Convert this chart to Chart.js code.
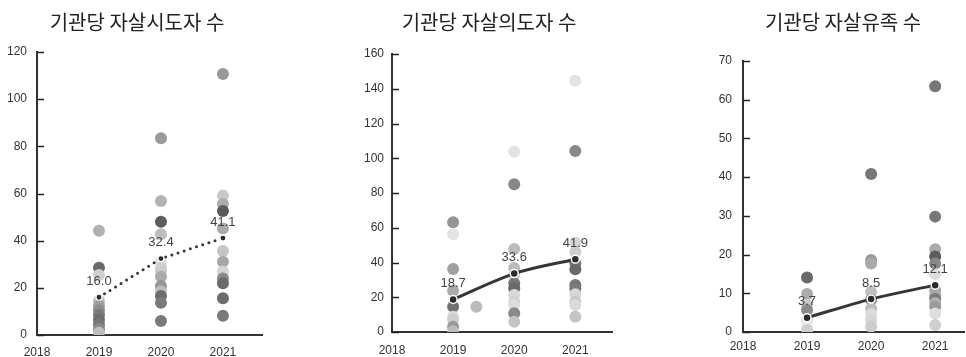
<!DOCTYPE html>
<html>
<head>
<meta charset="utf-8">
<script src="https://cdn.jsdelivr.net/npm/chart.js@4.4.1/dist/chart.umd.min.js"></script>
<style>
html,body{margin:0;padding:0;background:#fff;width:966px;height:357px;overflow:hidden;}
canvas{position:absolute;top:0;}
</style>
</head>
<body>
<canvas id="c1" width="274" height="357" style="left:0"></canvas>
<canvas id="c2" width="334" height="357" style="left:322px"></canvas>
<canvas id="c3" width="254" height="357" style="left:716px"></canvas>
<script>
// ── DATA ──
const years = [2019, 2020, 2021];

// 기관당 자살시도자 수
const attempt2019 = [44.2, 28.5, 25.4, 14.5, 12.5, 10.5, 8.5, 6.5, 4.5, 2.5, 1.0];
const attempt2020 = [83.4, 56.8, 48.0, 42.7, 31.1, 28.5, 27.0, 24.7, 20.8, 18.5, 16.5, 13.7, 5.9];
const attempt2021 = [110.7, 59.1, 55.6, 52.6, 45.2, 35.6, 31.1, 26.9, 24.0, 21.9, 15.6, 8.2];
const attemptMean = [16.0, 32.4, 41.1];

// 기관당 자살의도자 수
const intent2019 = [63.1, 56.2, 36.3, 23.7, 14.6, 8.8, 7.0, 3.0, 0.5];
const intent2020 = [103.8, 85.0, 47.8, 36.8, 33.0, 28.0, 25.2, 21.3, 17.5, 15.5, 10.8, 5.9];
const intent2021 = [144.6, 104.2, 51.4, 46.0, 39.5, 36.1, 27.0, 25.1, 21.7, 17.4, 15.5, 8.8];
const intentExtraX = [2019.38];
const intentExtraY = [14.6];
const intentMean = [18.7, 33.6, 41.9];

// 기관당 자살유족 수
const bereaved2019 = [14.1, 9.8, 7.0, 5.7, 3.1, 1.8, 0.5];
const bereaved2020 = [40.8, 18.6, 17.7, 10.4, 8.3, 6.1, 4.6, 3.1, 1.4];
const bereaved2021 = [63.5, 29.8, 21.4, 19.5, 17.7, 15.0, 10.8, 9.5, 8.5, 7.5, 6.5, 4.8, 1.8];
const bereavedMean = [3.7, 8.5, 12.1];

// point shades, same order as the values above
const attemptShades = [
  ['#b0b0b0','#6a6a6a','#cfcfcf','#c4c4c4','#a0a0a0','#8c8c8c','#7a7a7a','#6e6e6e','#767676','#8a8a8a','#bdbdbd'],
  ['#9a9a9a','#b3b3b3','#5e5e5e','#bdbdbd','#e0e0e0','#d0d0d0','#cccccc','#aaaaaa','#959595','#bbbbbb','#6c6c6c','#7a7a7a','#7a7a7a'],
  ['#999999','#c8c8c8','#adadad','#5a5a5a','#aaaaaa','#c6c6c6','#a6a6a6','#d4d4d4','#8a8a8a','#6a6a6a','#6c6c6c','#7a7a7a']
];
const intentShades = [
  ['#959595','#e3e3e3','#a0a0a0','#aaaaaa','#717171','#dadada','#cfcfcf','#9a9a9a','#bdbdbd'],
  ['#e3e3e3','#888888','#bbbbbb','#bcbcbc','#c8c8c8','#777777','#6a6a6a','#dadada','#d2d2d2','#dddddd','#8a8a8a','#c4c4c4'],
  ['#e3e3e3','#888888','#d6d6d6','#cccccc','#777777','#6a6a6a','#777777','#7a7a7a','#d6d6d6','#c8c8c8','#dadada','#c4c4c4']
];
const intentExtraShades = ['#bbbbbb'];
const bereavedShades = [
  ['#6a6a6a','#ababab','#c8c8c8','#8a8a8a','#dcdcdc','#ececec','#cfcfcf'],
  ['#777777','#9a9a9a','#aaaaaa','#c0c0c0','#888888','#bdbdbd','#dcdcdc','#d6d6d6','#cccccc'],
  ['#777777','#777777','#ababab','#5c5c5c','#888888','#dddddd','#aaaaaa','#a8a8a8','#7a7a7a','#b0b0b0','#9a9a9a','#dedede','#cfcfcf']
];

// ── HELPERS ──
const INK = '#333';
const NUM_FONT = "'Liberation Sans', Arial, sans-serif";

function toPoints(xs, ys){ return ys.map((y,i)=>({x:xs[i], y})); }
function column(year, vals){ return vals.map(v=>({x:year, y:v})); }

// panel title centred over the canvas
const panelTitle = {
  id:'panelTitle',
  afterDraw(chart, args, opts){
    const ctx = chart.ctx;
    ctx.save();
    ctx.font = "400 20px 'Noto Sans CJK KR', sans-serif";
    ctx.fillStyle = '#222';
    ctx.textAlign = 'center';
    ctx.textBaseline = 'middle';
    ctx.fillText(opts.text, chart.width/2, 22);
    ctx.restore();
  }
};

// short tick marks pointing into the plot from the y axis
const innerTicks = {
  id:'innerTicks',
  afterDraw(chart){
    const y = chart.scales.y, ctx = chart.ctx;
    ctx.save();
    ctx.strokeStyle = '#222';
    ctx.lineWidth = 1.5;
    y.ticks.forEach(t=>{
      const py = Math.round(y.getPixelForValue(t.value)) + 0.5;
      ctx.beginPath();
      ctx.moveTo(y.right, py);
      ctx.lineTo(y.right + 7, py);
      ctx.stroke();
    });
    ctx.restore();
  }
};

// mean values above the mean markers
const meanLabels = {
  id:'meanLabels',
  afterDatasetsDraw(chart){
    const meta = chart.getDatasetMeta(0);
    const vals = chart.data.datasets[0].data;
    const ctx = chart.ctx;
    ctx.save();
    ctx.font = '13px ' + NUM_FONT;
    ctx.fillStyle = '#444';
    ctx.textAlign = 'center';
    ctx.textBaseline = 'middle';
    meta.data.forEach((p,i)=>{
      ctx.fillText(vals[i].y.toFixed(1), p.x, p.y - 16);
    });
    ctx.restore();
  }
};

function makePanel(id, p){
  const scatter = [], shades = [];
  years.forEach((yr,i)=>{
    scatter.push(...column(yr, p.values[i]));
    shades.push(...p.shades[i]);
  });
  if(p.extra){ scatter.push(...p.extra.points); shades.push(...p.extra.shades); }

  const meanSet = {
    type:'line',
    data: toPoints(years, p.mean),
    borderColor:'#353535',
    borderWidth:3,
    borderDash: p.dotted ? [0, 6.5] : [],
    borderCapStyle: p.dotted ? 'round' : 'butt',
    tension: 0,
    cubicInterpolationMode: p.dotted ? 'default' : 'monotone',
    pointRadius: p.dotted ? 3 : 4,
    pointBackgroundColor:'#2b2b2b',
    pointBorderColor:'#fff',
    pointBorderWidth: p.dotted ? 1.2 : 1.5,
    fill:false
  };
  const dotSet = {
    type:'scatter',
    data: scatter,
    backgroundColor: shades,
    borderWidth:0,
    pointRadius:6
  };

  new Chart(document.getElementById(id), {
    type:'scatter',
    data:{datasets:[meanSet, dotSet]},
    options:{
      responsive:false,
      animation:false,
      layout:{padding:p.pad},
      plugins:{legend:{display:false}, tooltip:{enabled:false}, panelTitle:{text:p.title}},
      scales:{
        x:{
          type:'linear', min:2018, max:p.xMax,
          grid:{display:false, drawTicks:false},
          border:{display:true, color:INK, width:2},
          afterFit(s){ s.height = p.xHeight; },
          ticks:{stepSize:1, includeBounds:false, padding:p.xPad, color:INK,
                 font:{family:NUM_FONT, size:12}, maxRotation:0,
                 callback:v=>String(v)}
        },
        y:{
          min:0, max:p.yMax,
          grid:{display:false, drawTicks:false},
          border:{display:true, color:INK, width:2},
          afterFit(s){ s.width = p.yWidth; },
          ticks:{stepSize:p.yStep, padding:p.yPad, color:INK,
                 font:{family:NUM_FONT, size:12}}
        }
      }
    },
    plugins:[panelTitle, innerTicks, meanLabels]
  });
}

makePanel('c1', {
  title:'기관당 자살시도자 수',
  values:[attempt2019, attempt2020, attempt2021],
  shades:attemptShades,
  mean:attemptMean, dotted:true,
  yMax:120, yStep:20, xMax:2021.63,
  pad:{left:0, right:12, top:52, bottom:0},
  yWidth:37, xHeight:22, xPad:10, yPad:10
});

makePanel('c2', {
  title:'기관당 자살의도자 수',
  values:[intent2019, intent2020, intent2021],
  shades:intentShades,
  extra:{points:toPoints(intentExtraX, intentExtraY), shades:intentExtraShades},
  mean:intentMean, dotted:false,
  yMax:160, yStep:20, xMax:2021.6,
  pad:{left:0, right:44, top:54, bottom:0},
  yWidth:70, xHeight:25, xPad:11, yPad:8
});

makePanel('c3', {
  title:'기관당 자살유족 수',
  values:[bereaved2019, bereaved2020, bereaved2021],
  shades:bereavedShades,
  mean:bereavedMean, dotted:false,
  yMax:70, yStep:10, xMax:2021.45,
  pad:{left:0, right:6, top:61, bottom:0},
  yWidth:27, xHeight:25, xPad:7, yPad:11
});
</script>
</body>
</html>
